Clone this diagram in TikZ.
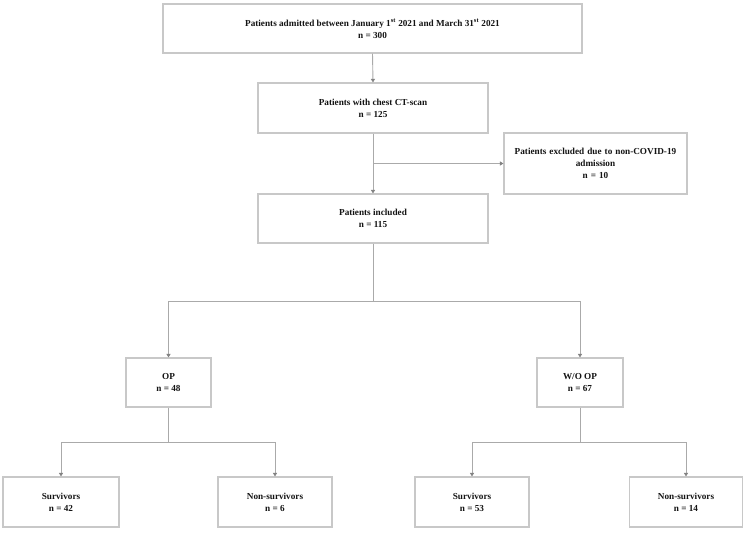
\documentclass[tikz,border=0pt]{standalone}
\usepackage{fontspec}
\setmainfont{Liberation Serif}
\usetikzlibrary{arrows.meta}
\definecolor{boxline}{RGB}{200,200,200}
\definecolor{conn}{RGB}{170,170,170}
\definecolor{tip}{RGB}{130,130,130}
\definecolor{txt}{RGB}{20,20,20}
\tikzset{
  box/.style={draw=boxline, line width=1.1pt, rectangle, inner sep=0pt, align=center,
    text=txt, font=\fontsize{9.2}{12}\selectfont\bfseries},
  conline/.style={draw=conn, line width=0.9pt},
  arr/.style={conline, -{Triangle[width=4pt,length=3.5pt,color=tip,fill=tip]}}
}
\begin{document}
\begin{tikzpicture}[x=1pt,y=-1pt]
\useasboundingbox[fill=white] (0,0) rectangle (750,534);
\node[box, minimum width=419pt, minimum height=49pt] (top) at (372.5,28.5)
  {Patients admitted between January 1\textsuperscript{st} 2021 and March 31\textsuperscript{st} 2021\\ n = 300};
\node[box, minimum width=230pt, minimum height=50pt] (ct) at (373,108)
  {Patients with chest CT-scan\\ n = 125};
\node[box, minimum width=183pt, minimum height=61pt, text width=178pt] (excl) at (595.5,163.5)
  {Patients excluded due to non-COVID-19\\ admission\\ n = 10};
\node[box, minimum width=230pt, minimum height=49pt] (incl) at (373,218.5)
  {Patients included\\ n = 115};
\node[box, minimum width=85pt, minimum height=49pt] (op) at (168.5,382.5)
  {OP\\ n = 48};
\node[box, minimum width=86pt, minimum height=49pt] (woop) at (580,382.5)
  {W/O OP\\ n = 67};
\node[box, minimum width=116pt, minimum height=50pt] (s1) at (61,502)
  {Survivors\\ n = 42};
\node[box, minimum width=114pt, minimum height=50pt] (n1) at (275,502)
  {Non-survivors\\ n = 6};
\node[box, minimum width=114pt, minimum height=50pt] (s2) at (472,502)
  {Survivors\\ n = 53};
\node[box, minimum width=113pt, minimum height=50pt] (n2) at (686,502)
  {Non-survivors\\ n = 14};
\coordinate (split) at (373,301);
\coordinate (splitop) at (168.5,442);
\coordinate (splitwo) at (580,442);
\draw[arr] (top.south) -- (ct.north);
\draw[arr] (ct.south) -- (incl.north);
\draw[arr] (ct.south |- excl.west) -- (excl.west);
\draw[conline] (incl.south) -- (split);
\draw[arr] (split) -| (op.north);
\draw[arr] (split) -| (woop.north);
\draw[conline] (op.south) -- (splitop);
\draw[arr] (splitop) -| (s1.north);
\draw[arr] (splitop) -| (n1.north);
\draw[conline] (woop.south) -- (splitwo);
\draw[arr] (splitwo) -| (s2.north);
\draw[arr] (splitwo) -| (n2.north);
\end{tikzpicture}
\end{document}
